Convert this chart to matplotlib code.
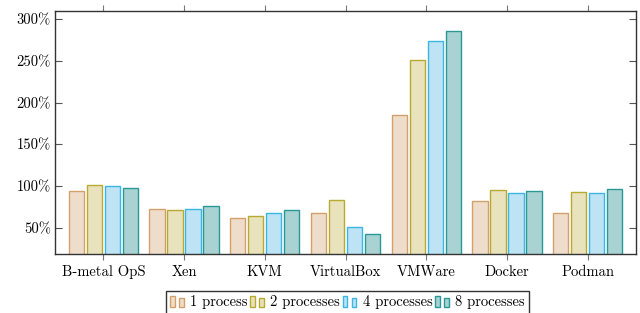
import matplotlib
matplotlib.use("Agg")
import matplotlib.pyplot as plt
import numpy as np
from matplotlib.legend_handler import HandlerBase
from matplotlib.patches import Rectangle

plt.rcParams['font.family'] = ['cmr10', 'DejaVu Serif']
plt.rcParams['mathtext.fontset'] = 'cm'
plt.rcParams['axes.formatter.use_mathtext'] = True

categories = ["B-metal OpS", "Xen", "KVM", "VirtualBox", "VMWare", "Docker", "Podman"]
series_names = ["1 process", "2 processes", "4 processes", "8 processes"]
p1 = [94, 72.8, 61.6, 67.6, 185.3, 82.8, 68.3]
p2 = [101.5, 71.6, 64, 83.1, 251, 95.2, 93.2]
p4 = [100.7, 72.8, 68.3, 50.8, 274.2, 91.6, 91.6]
p8 = [98.3, 76, 71.6, 42.5, 285.8, 94.7, 96.8]
yticks = [50, 100, 150, 200, 250, 300]

fills = ["#EFDDCC", "#E8E3BD", "#BDE3F5", "#A8D3D2"]
edges = ["#D4A06A", "#B8AA30", "#3AB6E4", "#2A9895"]

fig = plt.figure(figsize=(6.4, 3.13), dpi=100)
ax = fig.add_axes([55/640, 1-254.3/313, (636-55)/640, (254.3-10.7)/313])

x = np.arange(len(categories))
step = 0.223
width = 0.19
for i, (vals, fc, ec, name) in enumerate(zip([p1, p2, p4, p8], fills, edges, series_names)):
    ax.bar(x + (i - 1.5) * step, vals, width=width, facecolor=fc, edgecolor=ec,
           linewidth=1.0, label=name, zorder=2)

ax.set_xlim(-0.6, 6.6)
ax.set_ylim(18.5, 310)
ax.set_xticks(x)
ax.set_xticklabels(categories)
ax.set_yticks(yticks)
ax.set_yticklabels([f"{v}%" for v in yticks])
ax.tick_params(axis='y', direction='in', left=True, right=True, length=5, width=0.8,
               color='#555555', labelsize=10.5, pad=3)
ax.tick_params(axis='x', direction='out', top=True, bottom=True, length=4, width=0.8,
               color='#777777', labelsize=10.5, pad=4)
for s in ax.spines.values():
    s.set_linewidth(1.0)
    s.set_color('#333333')


class TwoBarHandler(HandlerBase):
    def create_artists(self, legend, orig_handle, xdescent, ydescent, width, height, fontsize, trans):
        fc = orig_handle.get_facecolor()
        ec = orig_handle.get_edgecolor()
        h = height * 1.1
        w = width * 0.28
        r1 = Rectangle((-xdescent, -ydescent - 0.05 * height), w, h, facecolor=fc, edgecolor=ec,
                       linewidth=1.0, transform=trans)
        r2 = Rectangle((-xdescent + width * 0.55, -ydescent - 0.05 * height), w, h * 0.8,
                       facecolor=fc, edgecolor=ec, linewidth=1.0, transform=trans)
        return [r1, r2]


handles, labels = ax.get_legend_handles_labels()
handles = [h.patches[0] for h in handles]
leg = fig.legend(handles, labels, loc='upper left', bbox_to_anchor=(166/640, 1-291/313),
                 ncol=4, frameon=True, fancybox=False, edgecolor='black', fontsize=10.5,
                 handler_map={Rectangle: TwoBarHandler()}, handlelength=1.1, handletextpad=0.25,
                 columnspacing=0.2, borderpad=0.3, borderaxespad=0)
leg.get_frame().set_linewidth(1.0)

fig.savefig("out.png", dpi=100)
